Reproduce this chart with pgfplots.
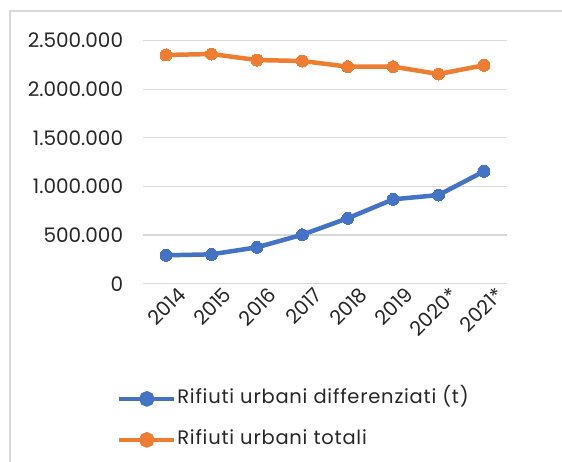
\documentclass[border=0pt]{standalone}
\usepackage{pgfplots}
\pgfplotsset{compat=1.18}
\usepackage{fontspec}
\setmainfont{Poppins}
\newfontfamily\legfont[LetterSpace=4]{Poppins}
\definecolor{cblue}{HTML}{4472C4}
\definecolor{corange}{HTML}{ED7D31}
\definecolor{cgrid}{HTML}{D9D9D9}
\definecolor{ctext}{HTML}{262626}
\begin{document}
\begin{tikzpicture}
\draw[cgrid, line width=1.5pt] (10pt,451pt) rectangle (620pt,-40pt);
\begin{axis}[
  at={(143.3pt,178.3pt)}, anchor=south west,
  scale only axis, width=363.4pt, height=243pt,
  xmin=-0.5, xmax=7.5, ymin=0, ymax=2500000,
  scaled y ticks=false,
  axis line style={draw=none},
  major tick length=0pt,
  ymajorgrids, grid style={cgrid, line width=1.2pt},
  xtick={0,...,7},
  xticklabels={2014,2015,2016,2017,2018,2019,2020*,2021*},
  ytick={0,500000,1000000,1500000,2000000,2500000},
  yticklabels={0,500.000,1.000.000,1.500.000,2.000.000,2.500.000},
  tick label style={font=\fontsize{20}{23}\selectfont, text=ctext},
  yticklabel style={anchor=east, inner sep=0pt, xshift=-20pt},
  xticklabel style={rotate=45, anchor=north east, inner sep=0pt, xshift=6pt, yshift=-9pt},
  legend style={at={(-0.072,-0.43)}, anchor=north west, draw=none, fill=none,
    font=\legfont\fontsize{19.5}{22}\selectfont, text=ctext, inner sep=0pt,
    row sep=20pt, nodes={inner sep=1pt, text height=14pt, text depth=5pt}},
  legend cell align=left,
  legend image code/.code={\draw[#1, mark=none, line width=4pt] (0pt,0pt) -- (55pt,0pt);
     \fill[#1] (27.5pt,0pt) circle (5.5pt);},
]
\addplot[color=cblue, line width=4.5pt, mark=*, mark size=6pt, mark options={line width=0pt}]
  coordinates {(0,292000) (1,302000) (2,374000) (3,504000) (4,673000) (5,868000) (6,912000) (7,1156000)};
\addlegendentry{Rifiuti urbani differenziati (t)}
\addplot[color=corange, line width=4.5pt, mark=*, mark size=6pt, mark options={line width=0pt}]
  coordinates {(0,2353000) (1,2363000) (2,2301000) (3,2291000) (4,2233000) (5,2233000) (6,2157000) (7,2247000)};
\addlegendentry{Rifiuti urbani totali}
\end{axis}
\pgfresetboundingbox
\useasboundingbox (0pt,0pt) rectangle (562pt,462pt);
\end{tikzpicture}
\end{document}
